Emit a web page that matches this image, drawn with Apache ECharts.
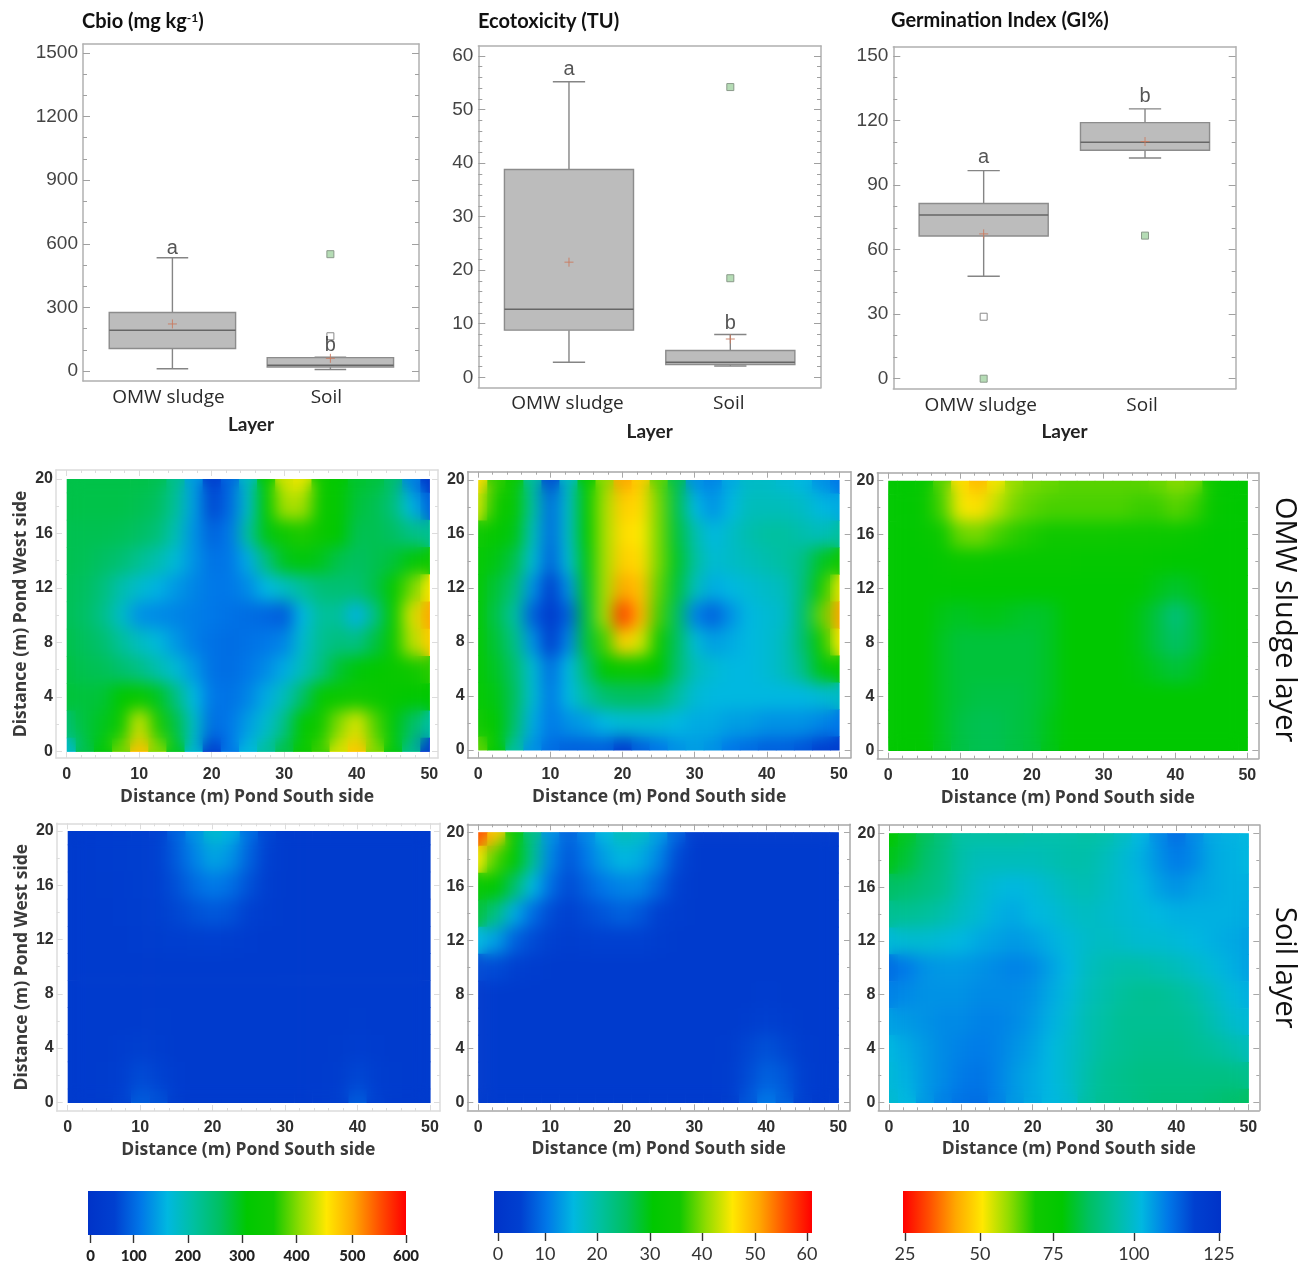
<!DOCTYPE html>
<html><head><meta charset="utf-8">
<style>html,body{margin:0;padding:0;background:#fff}#c{position:relative;width:1309px;height:1264px;overflow:hidden}</style>
<script src="https://cdn.jsdelivr.net/npm/echarts@6/dist/echarts.min.js"></script>
</head><body><div id="c"></div>
<script>
// ---------- box plot data: [position, low, q1, median, q3, high]
var layerNames = ['OMW sludge', 'Soil'];
var boxCbio = [[0, 11, 106, 192, 276, 534], [1, 7, 19, 27, 63, 65]];
var boxEco = [[0, 2.8, 8.8, 12.7, 38.8, 55.2], [1, 2.1, 2.4, 2.8, 5.0, 8.0]];
var boxGI = [[0, 47.6, 66.3, 76.1, 81.4, 96.7], [1, 102.6, 106.2, 109.9, 119, 125.4]];
var meanCbio = [[0, 222], [1, 60]];
var meanEco = [[0, 21.5], [1, 7.15]];
var meanGI = [[0, 67.3], [1, 110.2]];
var farCbio = [[1, 551]], nearCbio = [[1, 164]];
var farEco = [[1, 54.2], [1, 18.5]], nearEco = [];
var farGI = [[0, 0], [1, 66.5]], nearGI = [[0, 28.8]];
var lettersCbio = [[0, 580, 'a'], [1, 120, 'b']];
var lettersEco = [[0, 57.4, 'a'], [1, 10, 'b']];
var lettersGI = [[0, 103, 'a'], [1, 131, 'b']];
var ticksCbio = [0, 300, 600, 900, 1200, 1500], minorCbio = [100, 200, 400, 500, 700, 800, 1000, 1100, 1300, 1400];
var ticksEco = [0, 10, 20, 30, 40, 50, 60], minorEco = [2, 4, 6, 8, 12, 14, 16, 18, 22, 24, 26, 28, 32, 34, 36, 38, 42, 44, 46, 48, 52, 54, 56, 58];
var ticksGI = [0, 30, 60, 90, 120, 150], minorGI = [10, 20, 40, 50, 70, 80, 100, 110, 130, 140];

// ---------- map data: rows run from y = 20 (first) to y = 0 (last)
var xCols = [0, 2.5, 5, 7.5, 10, 12.5, 15, 17.5, 20, 22.5, 25, 27.5, 30, 32.5, 35, 37.5, 40, 42.5, 45, 47.5, 50];
var yRows = [20, 18, 16, 14, 12, 10, 8, 6, 4, 2, 0];
var cbioSludge = [
[262,262,262,262,262,258,215,130,30,85,170,300,430,440,340,310,275,268,240,110,15],
[262,262,262,262,258,250,205,130,55,88,170,300,410,410,335,310,268,258,228,150,80],
[258,258,258,255,248,232,185,120,80,100,200,290,345,355,330,300,258,258,248,220,210],
[258,255,248,235,212,188,158,120,95,100,140,225,285,295,285,260,250,258,270,295,345],
[255,250,228,190,165,145,125,110,100,100,115,150,175,205,232,235,235,262,310,385,450],
[255,245,218,170,120,115,110,105,100,95,90,85,75,150,205,205,145,222,320,430,500],
[260,252,238,205,175,155,125,105,95,90,95,100,110,165,212,228,222,265,330,415,470],
[265,258,255,240,222,190,160,125,95,90,100,115,140,180,225,275,295,305,325,345,360],
[270,268,272,300,325,285,225,150,100,95,110,140,180,245,315,330,345,330,312,300,300],
[235,268,285,345,430,355,265,170,90,100,130,165,220,305,350,395,435,375,295,250,195],
[165,262,295,385,480,395,285,160,40,100,150,200,260,325,365,430,475,395,295,215,40]];
var ecoSludge = [
[46,36,33,20,6,17,31,40,50,47,38,26,12,11,14,17,17,16,15,12,10],
[43,34,32,20,9,17,31,41,47,46,39,26,15,12,15,18,18,18,17,15,14],
[34,31,29,18,9,17,30,41,46,45,39,27,19,15,17,19,20,20,19,18,20],
[31,29,26,16,8,16,29,41,47,46,39,28,20,16,17,18,19,20,22,28,35],
[30,27,23,12,4,12,28,41,50,48,38,27,18,14,15,16,17,18,23,35,44],
[30,26,20,8,2,8,27,41,56,49,37,25,11,8,12,15,16,17,24,38,50],
[30,27,22,12,4,11,27,37,47,43,34,25,16,13,14,15,16,18,24,34,45],
[30,28,24,16,9,15,24,31,33,33,30,24,18,16,15,15,16,18,22,29,33],
[31,29,25,16,10,15,20,24,25,25,24,20,16,15,15,15,15,15,15,16,17],
[35,30,24,14,10,12,13,15,16,16,16,15,14,14,13,13,12,12,12,11,10],
[38,30,20,12,9,8,8,8,4,8,10,12,13,12,10,9,8,8,7,5,4]];
var giSludge = [
[75,75,72,62,49,44,51,58,60,61,62,62,62,62,62,61,59,60,70,75,75],
[75,75,72,63,51,49,55,60,62,63,63,63,63,63,64,64,62,64,72,75,75],
[75,75,73,68,61,60,63,65,66,67,67,67,67,68,68,69,70,72,75,75,75],
[75,75,75,73,71,71,72,72,72,72,72,73,73,73,73,74,75,75,75,75,75],
[75,75,75,75,75,75,75,75,75,75,75,75,75,75,75,77,79,77,75,75,75],
[75,75,75,77,78,77,77,78,79,78,75,75,75,75,77,81,87,81,76,75,75],
[75,75,75,78,80,80,80,80,80,78,75,75,75,75,77,81,84,81,76,75,75],
[75,75,75,78,80,80,80,80,80,78,75,75,75,75,76,78,80,78,75,75,75],
[75,75,75,78,80,81,81,81,80,78,75,75,75,75,75,75,75,75,75,75,75],
[75,75,75,78,81,82,82,81,80,77,75,75,75,75,75,75,75,75,75,75,75],
[75,75,75,78,81,82,82,81,80,77,75,75,75,75,75,75,75,75,75,75,75]];
var cbioSoil = [
[30,32,35,38,42,50,80,120,165,145,90,55,32,30,30,30,30,30,30,30,30],
[30,32,35,38,42,50,75,108,135,120,80,50,32,30,30,30,30,30,30,30,30],
[30,30,33,36,42,48,65,88,102,92,65,42,30,30,30,30,30,30,30,30,30],
[30,30,32,35,38,45,55,65,72,66,50,37,30,30,30,30,30,30,30,30,30],
[30,30,30,32,35,38,42,46,47,44,36,30,30,30,30,30,30,30,30,30,30],
[30,30,30,30,30,30,30,30,30,30,30,30,30,30,30,30,30,30,30,30,30],
[30,30,30,30,30,30,30,30,30,30,30,30,30,30,30,30,30,30,30,30,30],
[30,30,30,30,32,34,32,30,30,30,30,30,30,30,30,30,33,31,30,30,30],
[30,30,32,38,45,40,32,30,30,30,30,30,30,30,30,34,42,36,31,30,30],
[30,30,33,42,60,52,36,30,30,30,30,30,30,30,31,38,56,44,33,30,30],
[30,30,34,50,75,65,40,30,30,30,30,30,30,30,35,45,75,50,35,30,30]];
var ecoSoil = [
[55,47,31,22,12,8,11,15,18,17,13,8,3,3,3,3,3,3,3,3,3],
[45,37,30,21,11,7,10,13,15,14,11,6,3,3,3,3,3,3,3,3,3],
[32,30,24,15,9,6,8,10,11,11,8,5,3,3,3,3,3,3,3,3,3],
[27,22,14,9,6,5,6,7,8,7,5,4,3,3,3,3,3,3,3,3,3],
[15,13,8,6,5,4,4.5,5,5,5,4,3,3,3,3,3,3,3,3,3,3],
[6,6,5,4,3,3,3,3,3,3,3,3,3,3,3,3,3,3,3,3,3],
[3,3,3,3,3,3,3,3,3,3,3,3,3,3,3,3,3.5,3,3,3,3],
[3,3,3,3,3,3,3,3,3,3,3,3,3,3,3,4,5,4,3,3,3],
[3,3,3,3,3,3,3,3,3,3,3,3,3,3,3.5,5.5,6.5,5.5,4,3,3],
[3,3,3,3,3,3,3,3,3,3,3,3,3,3,4,6,8,7,4.5,3,3],
[3,3,3,3,3,3,3,3,3,3,3,3,3,3,4,7,10,8,5,3,3]];
var giSoil = [
[75,78,83,87,92,92,92,92,93,93,93,92,93,96,100,106,110,106,102,101,100],
[77,80,85,88,93,95,95,95,95,94,93,93,95,98,101,105,108,106,102,101,100],
[84,85,87,89,94,97,99,100,99,97,95,94,96,98,100,103,105,103,102,101,101],
[90,90,91,93,96,98,101,102,100,99,97,96,97,98,99,100,101,101,101,101,102],
[99,98,98,99,100,102,103,104,103,101,99,97,96,97,98,98,99,100,101,102,103],
[110,108,105,104,104,105,106,107,106,103,100,96,94,93,93,94,95,97,99,101,103],
[107,106,105,105,105,106,106,106,105,102,99,95,93,91,90,90,91,93,96,99,101],
[103,104,105,106,106,107,107,106,104,101,98,94,92,90,90,90,90,91,94,97,99],
[100,102,104,106,107,108,107,105,103,100,97,94,91,90,89,89,89,90,91,93,95],
[99,101,104,106,108,109,107,104,102,100,97,93,90,89,88,88,88,88,88,88,89],
[98,100,104,107,109,110,107,104,102,100,98,92,90,89,88,87,87,87,86,85,84]];
var mapTicksX = [0, 10, 20, 30, 40, 50], mapMinorX = [2, 4, 6, 8, 12, 14, 16, 18, 22, 24, 26, 28, 32, 34, 36, 38, 42, 44, 46, 48];
var mapTicksY = [0, 4, 8, 12, 16, 20], mapMinorY = [2, 6, 10, 14, 18];

// ---------- colour scale, low value to high value
var scaleColors = ['#0033c8','#0040d0','#0078e8','#00b8e0','#00c0a0','#00c060','#00c800','#10c800','#90dc00','#ffe800','#ffa800','#ff5000','#ff0000'];
var barValuesCbio = ['0','100','200','300','400','500','600'], barTicksCbio = [0, 82, 185, 288, 392, 498, 600];
var barValuesEco = ['0','10','20','30','40','50','60'], barTicksEco = [0, 9.13, 19.2, 29.5, 39.6, 49.9, 60];
var barValuesGI = ['25','50','75','100','125'], barTicksGI = [25, 48.9, 72.2, 97.9, 125];

// ---------- builders
var grids = [], xAxes = [], yAxes = [], series = [], visualMaps = [];
var SANS = '"Liberation Sans", Arial, sans-serif', LAB = '"Open Sans", sans-serif';

function sideAxes(list, grid, sideA, sideB, cfg) {
  var first = list.length;
  var line = {show: true, onZero: false, lineStyle: {color: cfg.frame, width: 1.5}};
  var base = {type: 'value', gridIndex: grid, min: cfg.min, max: cfg.max, scale: false, splitLine: {show: false}, axisLine: line};
  var none = {show: false, onZero: false};
  list.push(Object.assign({}, base, {position: sideA, name: cfg.name || '', nameLocation: 'middle', nameGap: cfg.nameGap, nameRotate: cfg.nameRotate,
    nameMoveOverlap: false, nameTextStyle: cfg.nameStyle,
    axisTick: {show: cfg.major > 0, inside: true, length: cfg.major, lineStyle: {color: cfg.tick, width: 1}, customValues: cfg.ticks},
    axisLabel: Object.assign({show: true, customValues: cfg.labelTicks || cfg.ticks, showMinLabel: true, showMaxLabel: true,
      formatter: function (v) { return String(v); }}, cfg.label)}));
  list.push(Object.assign({}, base, {position: sideA, axisLine: none, axisLabel: {show: false},
    axisTick: {show: cfg.minorLen > 0, inside: true, length: cfg.minorLen, lineStyle: {color: cfg.tick, width: 1}, customValues: cfg.minor}}));
  list.push(Object.assign({}, base, {position: sideB, axisLabel: {show: false},
    axisTick: {show: cfg.major > 0, inside: true, length: cfg.major, lineStyle: {color: cfg.tick, width: 1}, customValues: cfg.ticks}}));
  list.push(Object.assign({}, base, {position: sideB, axisLine: none, axisLabel: {show: false},
    axisTick: {show: cfg.minorLen > 0, inside: true, length: cfg.minorLen, lineStyle: {color: cfg.tick, width: 1}, customValues: cfg.minor}}));
  return first;
}

function boxRender(params, api) {
  var x = api.value(0), hw = 0.4, cw = 0.1;
  var style = {stroke: '#858585', lineWidth: 1.4, fill: null};
  var a = api.coord([x - hw, api.value(4)]), b = api.coord([x + hw, api.value(2)]);
  var medL = api.coord([x - hw, api.value(3)]), medR = api.coord([x + hw, api.value(3)]);
  var hi = api.coord([x, api.value(5)]), lo = api.coord([x, api.value(1)]);
  var q3 = api.coord([x, api.value(4)]), q1 = api.coord([x, api.value(2)]);
  var capHiL = api.coord([x - cw, api.value(5)]), capHiR = api.coord([x + cw, api.value(5)]);
  var capLoL = api.coord([x - cw, api.value(1)]), capLoR = api.coord([x + cw, api.value(1)]);
  function ln(p, q, s) { return {type: 'line', shape: {x1: p[0], y1: p[1], x2: q[0], y2: q[1]}, style: s || style}; }
  return {type: 'group', children: [
    ln(hi, q3), ln(q1, lo), ln(capHiL, capHiR), ln(capLoL, capLoR),
    {type: 'rect', shape: {x: a[0], y: a[1], width: b[0] - a[0], height: b[1] - a[1]}, style: {fill: '#bcbcbc', stroke: '#8c8c8c', lineWidth: 1.4}},
    ln(medL, medR, {stroke: '#666', lineWidth: 1.6})
  ]};
}

function addBox(rect, xR, yR, ticks, minor, box, mean, far, near, letters, layerGap, labelShift) {
  var g = grids.length;
  grids.push({left: rect[0], top: rect[1], width: rect[2] - rect[0], height: rect[3] - rect[1], containLabel: false});
  var xi = sideAxes(xAxes, g, 'bottom', 'top', {min: xR[0], max: xR[1], frame: '#b0b0b0', tick: '#b0b0b0', ticks: [], minor: [], major: 0, minorLen: 0,
    labelTicks: [0, 1], name: 'Layer', nameGap: layerGap, nameStyle: {fontFamily: 'Lato, sans-serif', fontWeight: 700, fontSize: 19, color: '#222'},
    label: {margin: 7, padding: [0, labelShift, 0, 0], fontFamily: LAB, fontSize: 19, color: '#2a2a2a', formatter: function (v) { return layerNames[v]; }}});
  var yi = sideAxes(yAxes, g, 'left', 'right', {min: yR[0], max: yR[1], frame: '#b0b0b0', tick: '#a0a0a0', ticks: ticks, minor: minor, major: 7, minorLen: 4,
    label: {margin: 5, padding: [3, 0, 0, 0], fontFamily: SANS, fontSize: 19, color: '#444'}});
  var ax = {xAxisIndex: xi, yAxisIndex: yi, silent: true, animation: false};
  series.push(Object.assign({type: 'custom', renderItem: boxRender, data: box, encode: {x: 0, y: [1, 2, 3, 4, 5]}, z: 3}, ax));
  series.push(Object.assign({type: 'scatter', data: far, symbol: 'rect', symbolSize: 7, itemStyle: {color: '#b5dcb5', borderColor: '#8a9a8a', borderWidth: 1, opacity: 1}, z: 4}, ax));
  series.push(Object.assign({type: 'scatter', data: near, symbol: 'rect', symbolSize: 7, itemStyle: {color: '#fff', borderColor: '#8a8a8a', borderWidth: 1, opacity: 1}, z: 4}, ax));
  series.push(Object.assign({type: 'scatter', data: mean, symbol: 'path://M5 0V10M0 5H10', symbolSize: 9, itemStyle: {color: 'none', borderColor: '#c97a60', borderWidth: 0.9, opacity: 1}, z: 5}, ax));
  series.push(Object.assign({type: 'scatter', data: letters, symbolSize: 0, z: 6,
    label: {show: true, position: 'inside', fontFamily: SANS, fontSize: 20, color: '#2a2a2a', formatter: function (p) { return p.value[2]; }}}, ax));
}

var blurTargets = [];
function cellRender(params, api) {
  var x = api.value(0), y = api.value(1);
  var x0 = Math.max(0, x - 1.25), x1 = Math.min(50, x + 1.25), y0 = Math.max(0, y - 1), y1 = Math.min(20, y + 1);
  var a = api.coord([x0, y1]), b = api.coord([x1, y0]);
  return {type: 'rect', shape: {x: a[0], y: a[1], width: b[0] - a[0] + 0.6, height: b[1] - a[1] + 0.6},
    style: {fill: api.visual('color')}};
}

function addMap(frame, plot, rows, vMin, vMax, colors, frameColor, withY) {
  var g = grids.length;
  var px = (plot[2] - plot[0]) / 50, py = (plot[3] - plot[1]) / 20;
  grids.push({left: frame[0], top: frame[1], width: frame[2] - frame[0], height: frame[3] - frame[1]});
  var lblColor = '#2e2e2e';
  var xi = sideAxes(xAxes, g, 'bottom', 'top', {min: -(plot[0] - frame[0]) / px, max: 50 + (frame[2] - plot[2]) / px,
    frame: frameColor, tick: frameColor, ticks: mapTicksX, minor: mapMinorX, major: 6, minorLen: 3,
    name: 'Distance (m) Pond South side', nameGap: 30, nameStyle: {fontFamily: LAB, fontWeight: 700, fontSize: 17.5, color: '#3a3a3a'},
    label: {margin: 9, fontFamily: SANS, fontWeight: 700, fontSize: 16, color: lblColor}});
  var yi = sideAxes(yAxes, g, 'left', 'right', {min: -(frame[3] - plot[3]) / py, max: 20 + (plot[1] - frame[1]) / py,
    frame: frameColor, tick: frameColor, ticks: mapTicksY, minor: mapMinorY, major: 6, minorLen: 3,
    name: withY ? 'Distance (m) Pond West side' : '', nameGap: 26, nameRotate: 90, nameStyle: {fontFamily: LAB, fontWeight: 700, fontSize: 17.5, color: '#3a3a3a'},
    label: {margin: 3, padding: [2, 0, 0, 0], fontFamily: SANS, fontWeight: 700, fontSize: 16, color: lblColor}});
  var data = [];
  rows.forEach(function (r, j) { r.forEach(function (v, i) { data.push([xCols[i], yRows[j], v]); }); });
  var si = series.length;
  series.push({type: 'custom', renderItem: cellRender, data: data, encode: {x: 0, y: 1}, xAxisIndex: xi, yAxisIndex: yi, silent: true, animation: false, clip: true, z: 2});
  visualMaps.push({show: false, type: 'continuous', seriesIndex: si, dimension: 2, min: vMin, max: vMax, inRange: {color: colors}});
  blurTargets.push(si);
}

function addBar(rect, min, max, ticks, labels, colors, fontStyle) {
  var g = grids.length;
  grids.push({left: rect[0], top: rect[1], width: rect[2] - rect[0], height: rect[3] - rect[1]});
  xAxes.push({type: 'value', gridIndex: g, min: min, max: max, position: 'bottom', splitLine: {show: false}, axisLine: {show: false, onZero: false},
    axisTick: {show: true, length: 8, lineStyle: {color: '#333', width: 1.4}, customValues: ticks},
    axisLabel: Object.assign({show: true, customValues: ticks, showMinLabel: true, showMaxLabel: true, margin: 12, color: '#222',
      formatter: function (v) { return labels[ticks.indexOf(v)]; }}, fontStyle)});
  yAxes.push({type: 'value', gridIndex: g, min: 0, max: 1, show: false});
  var stops = colors.map(function (c, i) { return {offset: i / (colors.length - 1), color: c}; });
  series.push({type: 'custom', data: [[min, max]], encode: {x: [0, 1]}, xAxisIndex: xAxes.length - 1, yAxisIndex: yAxes.length - 1, silent: true, animation: false,
    renderItem: function (p, api) {
      var a = api.coord([api.value(0), 1]), b = api.coord([api.value(1), 0]);
      return {type: 'rect', shape: {x: a[0], y: a[1], width: b[0] - a[0], height: b[1] - a[1]},
        style: {fill: new echarts.graphic.LinearGradient(0, 0, 1, 0, stops)}};
    }});
}

// ---------- box plots
addBox([83, 44, 419, 381], [-0.566, 1.561], [-47, 1542], ticksCbio, minorCbio, boxCbio, meanCbio, farCbio, nearCbio, lettersCbio, 34, 8);
addBox([478.3, 46, 821, 387.3], [-0.562, 1.562], [-1.87, 61.87], ticksEco, minorEco, boxEco, meanEco, farEco, nearEco, lettersEco, 35, 3);
addBox([893.3, 46.7, 1235.7, 388.7], [-0.56, 1.562], [-4.65, 154.3], ticksGI, minorGI, boxGI, meanGI, farGI, nearGI, lettersGI, 34, 6);

// ---------- maps
var revColors = scaleColors.slice().reverse();
addMap([56, 470, 438, 758], [66.7, 479, 429.3, 751.3], cbioSludge, 0, 600, scaleColors, '#dcdcdc', true);
addMap([467.7, 471.7, 850.7, 757.7], [478.3, 480, 839, 750], ecoSludge, 0, 60, scaleColors, '#a8a8a8', false);
addMap([877.3, 472.7, 1258.3, 758.7], [888.3, 480.7, 1247.3, 750.3], giSludge, 25, 125, revColors, '#a8a8a8', false);
addMap([56.7, 823.3, 440, 1111], [67.7, 831, 430, 1102.3], cbioSoil, 0, 600, scaleColors, '#dcdcdc', true);
addMap([467.3, 824.3, 850, 1110.3], [478.3, 832.3, 838.3, 1102.3], ecoSoil, 0, 60, scaleColors, '#a8a8a8', false);
addMap([878.3, 825, 1259.3, 1110.3], [889, 833.3, 1248.3, 1102.3], giSoil, 25, 125, revColors, '#a8a8a8', false);

// ---------- colour bars
addBar([88, 1191, 406, 1235], -5, 600, barTicksCbio, barValuesCbio, scaleColors, {margin: 14, fontFamily: 'Lato, sans-serif', fontWeight: 900, fontSize: 15});
addBar([494, 1191, 812, 1233], -0.78, 60.97, barTicksEco, barValuesEco, scaleColors, {fontFamily: 'Lato, sans-serif', fontSize: 18, color: '#333'});
addBar([903, 1191, 1221, 1233], 24.36, 125.64, barTicksGI, barValuesGI, revColors, {fontFamily: 'Lato, sans-serif', fontSize: 18, color: '#333'});

function titleAt(text, left, top, rich) {
  return {text: text, left: left, top: top, padding: 0,
    textStyle: {fontFamily: 'Lato, sans-serif', fontWeight: 700, fontSize: 20, color: '#111', rich: rich}};
}
var supRich = {a: {fontFamily: 'Lato, sans-serif', fontWeight: 700, fontSize: 20, color: '#111'},
  s: {fontFamily: 'Lato, sans-serif', fontWeight: 700, fontSize: 12, color: '#111', verticalAlign: 'top', padding: [0, 0, 6, 0]}};

var chart = echarts.init(document.getElementById('c'), null, {renderer: 'canvas', width: 1309, height: 1264});
chart.setOption({
  backgroundColor: '#fff', animation: false,
  title: [
    titleAt('{a|Cbio (mg kg}{s|-1}{a|)}', 82, 12, supRich),
    titleAt('Ecotoxicity (TU)', 478, 12),
    titleAt('Germination Index (GI%)', 891, 11)
  ],
  grid: grids, xAxis: xAxes, yAxis: yAxes, series: series, visualMap: visualMaps,
  graphic: [
    {type: 'text', left: 1270, top: 497, rotation: -Math.PI / 2, style: {text: 'OMW sludge layer', font: '29px "Open Sans", sans-serif', fill: '#111'}},
    {type: 'text', left: 1270, top: 907, rotation: -Math.PI / 2, style: {text: 'Soil layer', font: '29px "Open Sans", sans-serif', fill: '#111'}}
  ]
});

// smooth shading of the map cells, over each plot area as the library reports it
blurTargets.forEach(function (si) {
  var a = chart.convertToPixel({seriesIndex: si}, [0, 20]), b = chart.convertToPixel({seriesIndex: si}, [50, 0]);
  var d = document.createElement('div');
  d.style.cssText = 'position:absolute;pointer-events:none;left:' + a[0] + 'px;top:' + a[1] + 'px;width:' + (b[0] - a[0]) + 'px;height:' + (b[1] - a[1]) + 'px;backdrop-filter:blur(8px);-webkit-backdrop-filter:blur(8px)';
  document.getElementById('c').appendChild(d);
});
</script></body></html>
